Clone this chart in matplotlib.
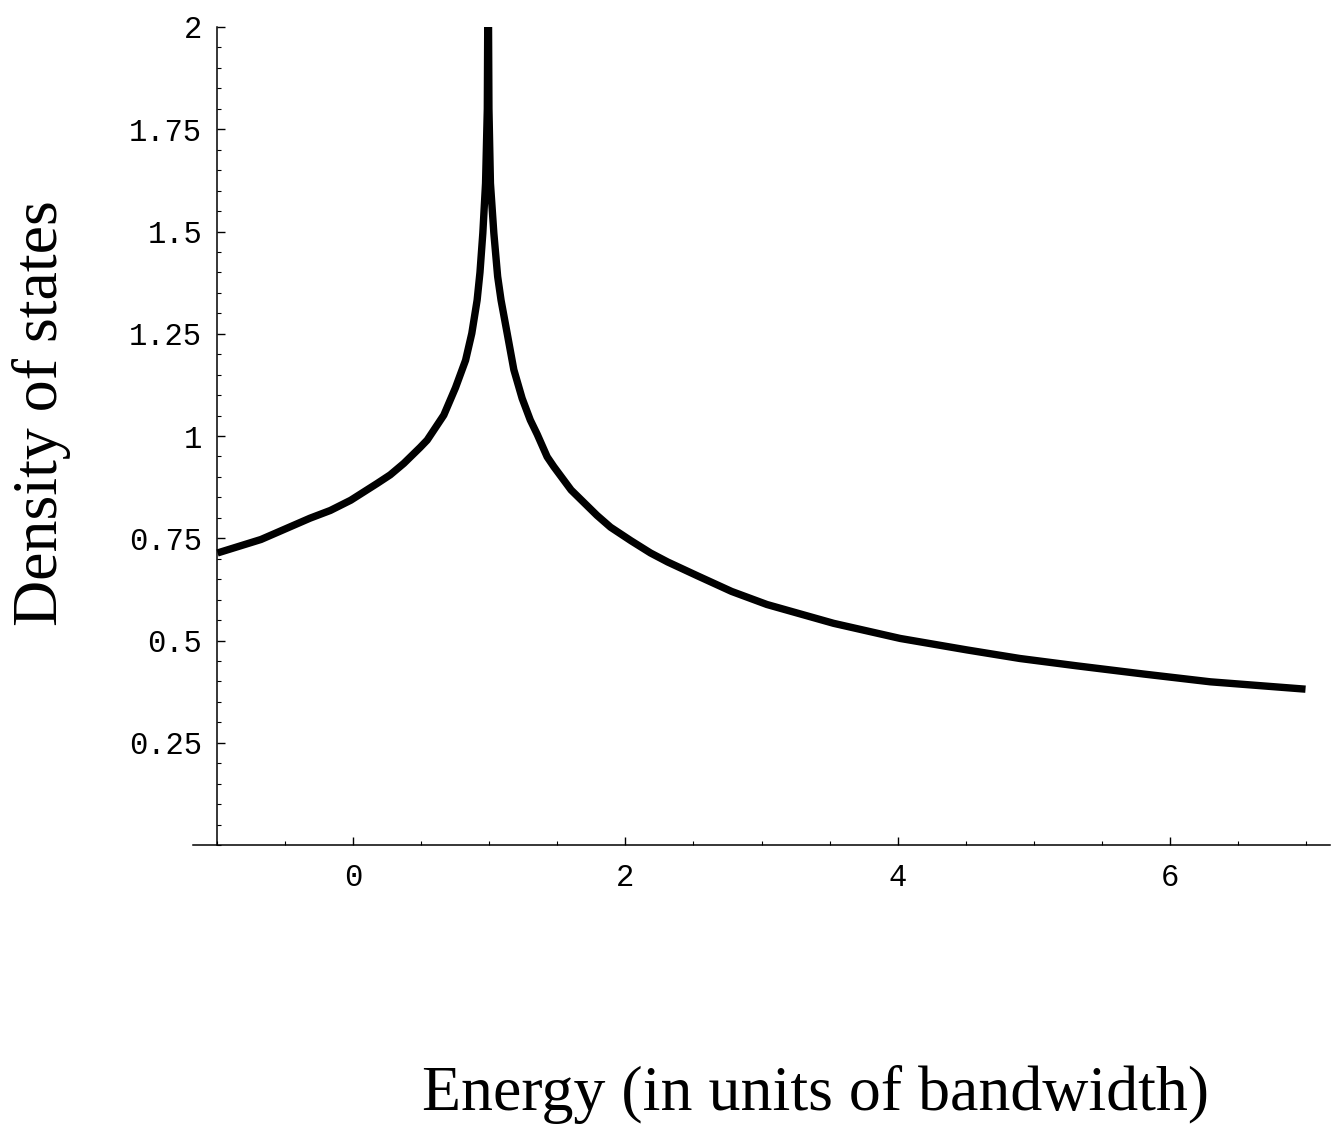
import matplotlib
matplotlib.use("Agg")
import matplotlib.pyplot as plt
from matplotlib.ticker import MultipleLocator

# Data
energy = [-1.0, -0.68, -0.32, -0.17, -0.02, 0.174, 0.27, 0.37, 0.49, 0.542, 0.664,
          0.75, 0.824, 0.87, 0.909, 0.93, 0.951, 0.971, 0.984, 0.99,
          0.996, 1.007, 1.032, 1.06, 1.085, 1.13, 1.179, 1.24, 1.30, 1.351,
          1.424, 1.473, 1.60, 1.79, 1.89, 2.04, 2.184, 2.31, 2.53, 2.78, 3.04,
          3.53, 4.02, 4.51, 4.90, 5.32, 5.81, 6.30, 7.0]
dos = [0.714, 0.747, 0.799, 0.818, 0.843, 0.884, 0.905, 0.933, 0.972, 0.990, 1.051,
       1.118, 1.185, 1.251, 1.332, 1.40, 1.496, 1.618, 1.80, 2.20,
       1.80, 1.618, 1.496, 1.39, 1.332, 1.251, 1.162, 1.092, 1.039, 1.004,
       0.949, 0.925, 0.868, 0.806, 0.777, 0.744, 0.714, 0.692, 0.658, 0.620, 0.588,
       0.542, 0.505, 0.477, 0.456, 0.438, 0.418, 0.399, 0.381]

xticks = [0, 2, 4, 6]
xticklabels = ["0", "2", "4", "6"]
yticks = [0.25, 0.5, 0.75, 1.0, 1.25, 1.5, 1.75, 2.0]
yticklabels = ["0.25", "0.5", "0.75", "1", "1.25", "1.5", "1.75", "2"]
xlabel = "Energy (in units of bandwidth)"
ylabel = "Density of states"

W, H = 1336, 1134
fig = plt.figure(figsize=(W / 100, H / 100), dpi=100)
ax = fig.add_axes([193 / W, 1 - 845 / H, (1330 - 193) / W, (845 - 27) / H])

ax.plot(energy, dos, color="black", lw=5.3, solid_capstyle="butt", solid_joinstyle="round")

ax.set_xlim(-1.18, 7.18)
ax.set_ylim(0, 2.0)

for s in ["top", "right"]:
    ax.spines[s].set_visible(False)
ax.spines["left"].set_position(("data", -1))
ax.spines["bottom"].set_position(("data", 0))
ax.spines["left"].set_linewidth(1.1)
ax.spines["bottom"].set_linewidth(1.1)

ax.set_xticks(xticks)
ax.set_xticklabels(xticklabels)
ax.set_yticks(yticks)
ax.set_yticklabels(yticklabels)
ax.xaxis.set_minor_locator(MultipleLocator(0.5))
ax.yaxis.set_minor_locator(MultipleLocator(0.05))

mono = "Liberation Mono"
ax.tick_params(axis="both", which="major", direction="in", length=6, width=1.0,
               labelsize=22)
ax.tick_params(axis="both", which="minor", direction="in", length=3, width=0.8)
ax.tick_params(axis="x", which="major", pad=13)
ax.tick_params(axis="y", which="major", pad=11)
for lab in ax.get_xticklabels() + ax.get_yticklabels():
    lab.set_fontfamily(mono)

fig.text(815 / W, 1 - 1110 / H, xlabel, family="Liberation Serif", fontsize=46,
         ha="center", va="baseline")
fig.text(57 / W, 1 - 413.5 / H, ylabel, family="Liberation Serif", fontsize=46,
         ha="center", va="baseline", rotation=90, rotation_mode="anchor")

fig.savefig("out.png", dpi=100)
